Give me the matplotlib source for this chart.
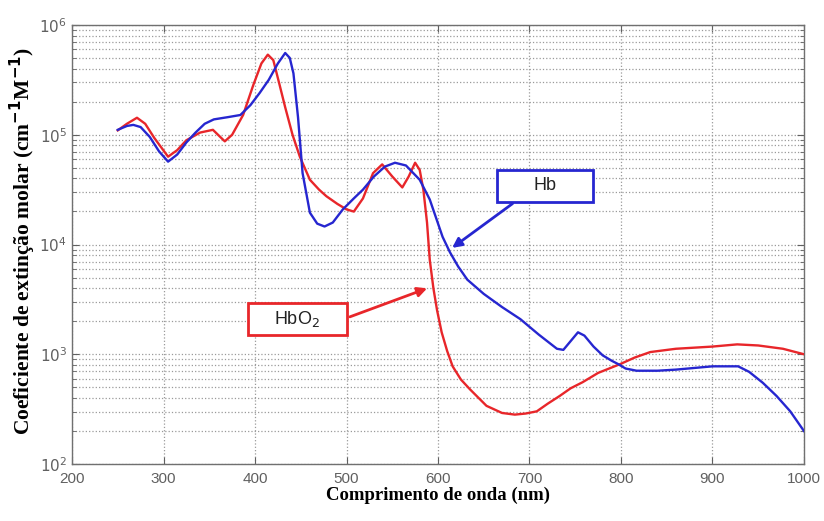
import matplotlib
matplotlib.use("Agg")
import matplotlib.pyplot as plt
import numpy as np
from matplotlib.patches import Rectangle
from matplotlib.ticker import LogLocator, MultipleLocator

# wavelength (nm) and log10 of molar extinction coefficient
hb_nm = [250, 260, 267, 275, 285, 295, 305, 315, 325, 335, 345, 355, 370, 384,
         395, 405, 415, 425, 433, 438, 442, 447, 452, 460, 468, 476, 485, 496,
         508, 518, 530, 542, 553, 565, 580, 591, 598, 605, 613, 622, 632, 650,
         670, 690, 710, 730, 737, 745, 753, 760, 770, 780, 790, 797, 805, 817,
         840, 860, 880, 900, 928, 940, 955, 970, 985, 1000]
hb_log = [5.045, 5.08, 5.09, 5.07, 4.98, 4.85, 4.755, 4.82, 4.93, 5.02, 5.10,
          5.14, 5.16, 5.18, 5.27, 5.38, 5.50, 5.65, 5.745, 5.70, 5.56, 5.16,
          4.65, 4.29, 4.19, 4.164, 4.20, 4.32, 4.42, 4.50, 4.62, 4.71, 4.745,
          4.72, 4.59, 4.41, 4.24, 4.07, 3.93, 3.80, 3.68, 3.55, 3.43, 3.32,
          3.18, 3.05, 3.04, 3.12, 3.20, 3.17, 3.07, 2.99, 2.94, 2.91, 2.87,
          2.85, 2.85, 2.86, 2.875, 2.89, 2.89, 2.84, 2.74, 2.62, 2.48, 2.30]

hbo2_nm = [250, 260, 271, 280, 290, 305, 315, 325, 340, 354, 362, 367, 375, 387,
           398, 407, 414, 420, 427, 433, 441, 449, 460, 470, 478, 490, 500, 508,
           518, 529, 539, 550, 561, 568, 575, 580, 584, 588, 591, 595, 599, 604,
           610, 616, 625, 635, 653, 670, 684, 696, 708, 720, 733, 745, 758, 775,
           799, 815, 832, 860, 900, 927, 950, 977, 1000]
hbo2_log = [5.04, 5.10, 5.155, 5.10, 4.97, 4.80, 4.86, 4.95, 5.02, 5.045, 4.98,
            4.94, 5.00, 5.18, 5.45, 5.65, 5.73, 5.68, 5.45, 5.25, 5.00, 4.80,
            4.59, 4.50, 4.44, 4.37, 4.32, 4.30, 4.42, 4.65, 4.73, 4.62, 4.52,
            4.62, 4.745, 4.68, 4.50, 4.20, 3.86, 3.60, 3.40, 3.20, 3.03, 2.89,
            2.77, 2.68, 2.53, 2.465, 2.45, 2.46, 2.48, 2.55, 2.62, 2.69, 2.745,
            2.83, 2.91, 2.97, 3.02, 3.05, 3.07, 3.09, 3.08, 3.05, 3.00]

hb = 10 ** np.array(hb_log)
hbo2 = 10 ** np.array(hbo2_log)

tick_color = "#606060"

fig = plt.figure(figsize=(8.24, 5.21), dpi=100)
ax = fig.add_axes([0.0874, 0.1094, 0.8883, 0.8426])

ax.plot(hbo2_nm, hbo2, color="#e8262a", lw=1.7, zorder=3)
ax.plot(hb_nm, hb, color="#2626d0", lw=1.7, zorder=3)

ax.set_yscale("log")
ax.set_xlim(200, 1000)
ax.set_ylim(1e2, 1e6)
ax.xaxis.set_major_locator(MultipleLocator(100))
ax.yaxis.set_major_locator(LogLocator(base=10, numticks=10))
ax.yaxis.set_minor_locator(LogLocator(base=10, subs=np.arange(2, 10), numticks=20))

ax.grid(True, which="major", axis="both", color="#9a9a9a", ls=":", lw=0.9)
ax.grid(True, which="minor", axis="y", color="#9a9a9a", ls=":", lw=0.9)

ax.tick_params(which="both", direction="in", top=True, right=True,
               colors=tick_color, labelsize=11)
ax.tick_params(which="major", length=5)
ax.tick_params(which="minor", length=3)
ax.tick_params(axis="x", pad=6)
for lab in ax.get_xticklabels():
    lab.set_family("Liberation Sans")
for s in ax.spines.values():
    s.set_color("#707070")
    s.set_linewidth(1.0)

ax.set_xlabel("Comprimento de onda (nm)", family="Liberation Serif",
              weight="bold", fontsize=13.5, labelpad=0)
ax.set_ylabel("Coeficiente de extinção molar (cm$^{\\mathbf{-1}}$M$^{\\mathbf{-1}}$)",
              family="Liberation Serif", weight="bold", fontsize=15.5)
ax.yaxis.set_label_coords(-0.047, 0.508)

# label boxes with arrows
ax.add_patch(Rectangle((0.581, 0.597), 0.131, 0.073, transform=ax.transAxes,
                       facecolor="white", edgecolor="#2626d0", lw=2, zorder=4))
ax.text(0.6465, 0.6335, "Hb", transform=ax.transAxes, ha="center", va="center",
        fontsize=13, family="Liberation Sans", color="#222222", zorder=5)
ax.annotate("", xy=(613, 9.0e3), xycoords="data",
            xytext=(0.605, 0.597), textcoords="axes fraction",
            arrowprops=dict(arrowstyle="-|>", color="#2626d0", lw=2,
                            mutation_scale=14), zorder=4)

ax.add_patch(Rectangle((0.240, 0.294), 0.136, 0.073, transform=ax.transAxes,
                       facecolor="white", edgecolor="#e8262a", lw=2, zorder=4))
ax.text(0.308, 0.3305, "HbO$_2$", transform=ax.transAxes, ha="center",
        va="center", fontsize=13, family="Liberation Sans", color="#222222", zorder=5)
ax.annotate("", xy=(591, 4.07e3), xycoords="data",
            xytext=(0.376, 0.333), textcoords="axes fraction",
            arrowprops=dict(arrowstyle="-|>", color="#e8262a", lw=2,
                            mutation_scale=14), zorder=4)

fig.savefig("out.png", dpi=100)
